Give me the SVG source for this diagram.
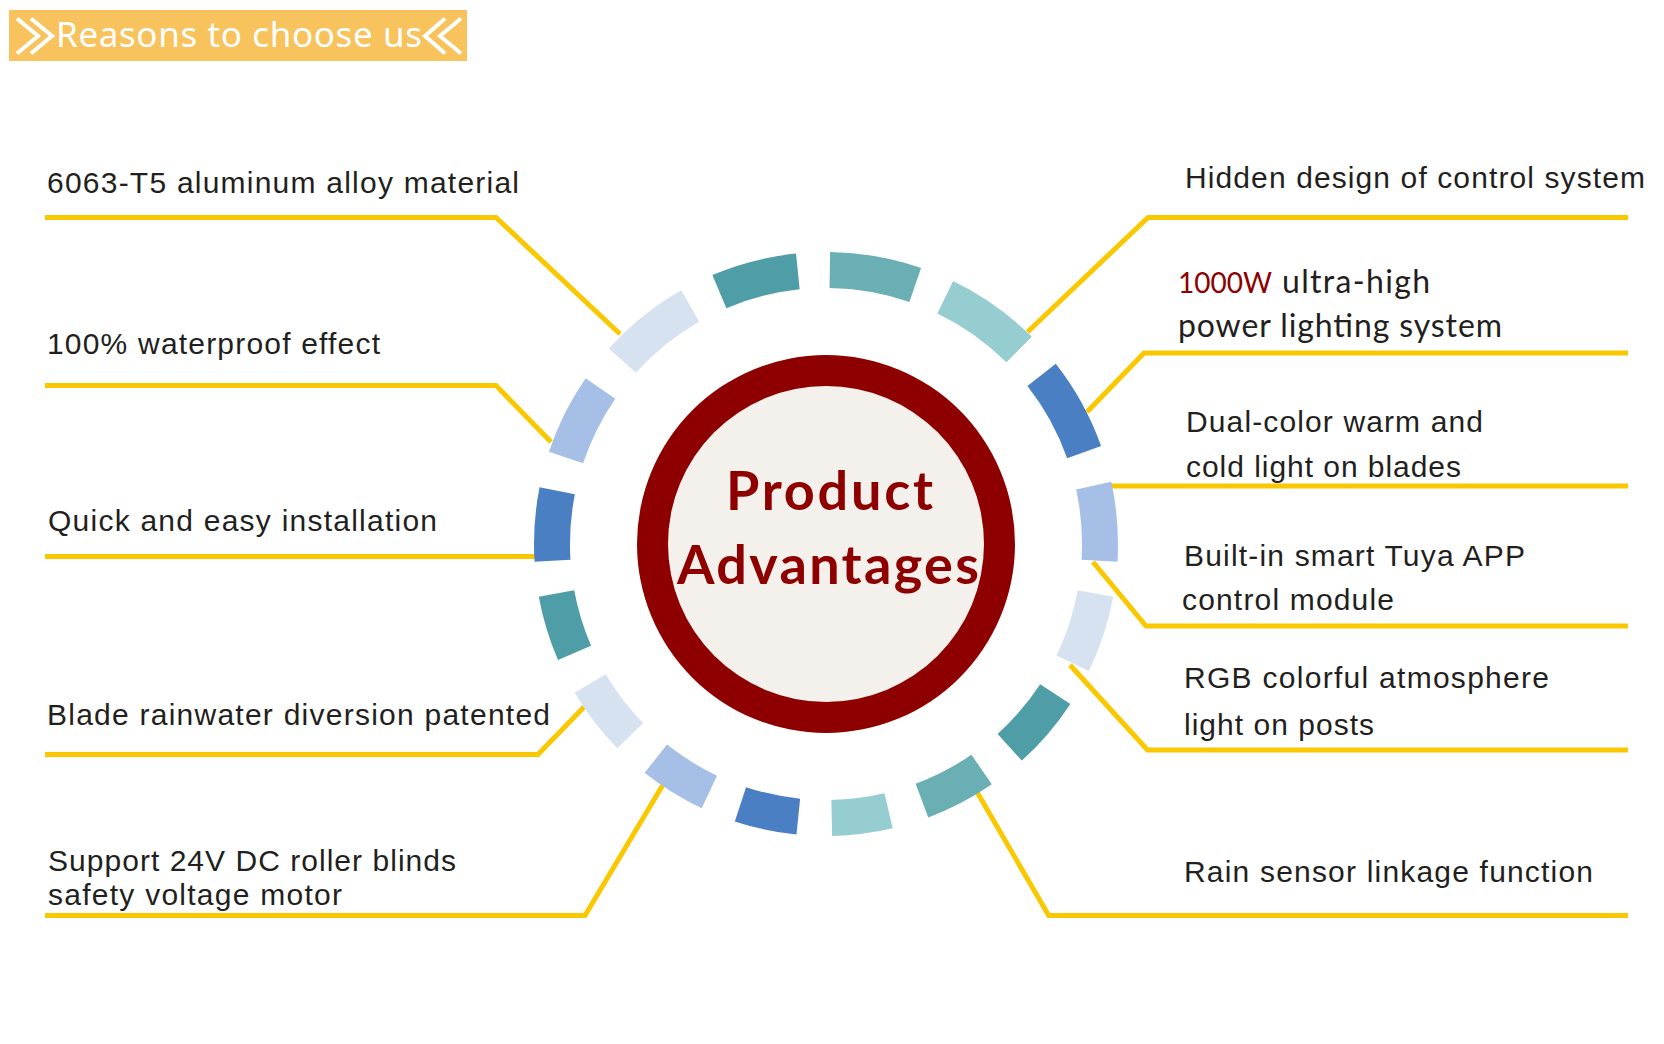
<svg xmlns="http://www.w3.org/2000/svg" width="1664" height="1044" viewBox="0 0 1664 1044">
<style>
.lbl{font-family:"Liberation Sans",Arial,sans-serif;font-size:30px;fill:#231f20}
.lat{font-family:Lato,"Liberation Sans",sans-serif;font-size:32px;fill:#231f20}
.ctr{font-family:Lato,"Open Sans",sans-serif;font-weight:bold;font-size:54px;fill:#8e0000}
.conn{fill:none;stroke:#f9c800;stroke-width:5;stroke-linejoin:miter}
.seg{fill:none;stroke-width:36}
.chev{fill:none;stroke:#fff;stroke-width:4}
.dt{stroke:#4f9da6}.mt{stroke:#6aafb4}.lt{stroke:#95cdd0}.bl{stroke:#4b7fc3}.lb{stroke:#a5bfe6}.vl{stroke:#d7e2f1}
</style>
<rect width="1664" height="1044" fill="#ffffff"/>
<g id="banner">
<rect x="9" y="10" width="458" height="51" fill="#f8c35c"/>
<polyline class="chev" points="17,18.5 38,36 17,53.5"/>
<polyline class="chev" points="31,18.5 52,36 31,53.5"/>
<polyline class="chev" points="445,18.5 425,36 445,53.5"/>
<polyline class="chev" points="461,18.5 440,36 461,53.5"/>
<text x="56" y="47" font-family="'Noto Sans','Open Sans',sans-serif" font-size="35" fill="#ffffff" textLength="366">Reasons to choose us</text>
</g>
<g id="connectors">
<polyline class="conn" points="45,217.5 496,217.5 620,334"/>
<polyline class="conn" points="45,385.5 496,385.5 551,442"/>
<polyline class="conn" points="45,556.5 536,556.5"/>
<polyline class="conn" points="45,754.5 538,754.5 584,707"/>
<polyline class="conn" points="45,915.5 585,915.5 664,783"/>
<polyline class="conn" points="1027.5,332 1148,217.5 1628,217.5"/>
<polyline class="conn" points="1087,412 1144,353 1628,353"/>
<polyline class="conn" points="1110,486 1628,486"/>
<polyline class="conn" points="1093,562 1146,626 1628,626"/>
<polyline class="conn" points="1070,665 1147.5,750 1628,750"/>
<polyline class="conn" points="977,792 1048.7,915.5 1628,915.5"/>
</g>
<g id="ring">
<path class="seg mt" d="M829.83,270.03 A274,274 0 0 1 915.21,284.93"/>
<path class="seg lt" d="M945.25,297.31 A274,274 0 0 1 1019.07,349.58"/>
<path class="seg bl" d="M1041.62,374.93 A274,274 0 0 1 1084.12,452.09"/>
<path class="seg lb" d="M1093.71,485.63 A274,274 0 0 1 1099.49,560.73"/>
<path class="seg vl" d="M1095.50,593.46 A274,274 0 0 1 1072.69,663.25"/>
<path class="seg dt" d="M1055.27,694.03 A274,274 0 0 1 1009.74,747.26"/>
<path class="seg mt" d="M981.59,769.54 A274,274 0 0 1 921.96,800.65"/>
<path class="seg lt" d="M888.57,810.76 A274,274 0 0 1 831.74,817.94"/>
<path class="seg bl" d="M798.31,816.60 A274,274 0 0 1 740.42,804.29"/>
<path class="seg lb" d="M709.34,791.92 A274,274 0 0 1 655.80,758.73"/>
<path class="seg vl" d="M630.24,735.71 A274,274 0 0 1 590.16,683.48"/>
<path class="seg dt" d="M574.54,652.82 A274,274 0 0 1 556.50,593.46"/>
<path class="seg bl" d="M552.51,560.73 A274,274 0 0 1 557.22,490.78"/>
<path class="seg lb" d="M566.01,457.51 A274,274 0 0 1 600.47,388.41"/>
<path class="seg vl" d="M622.38,360.66 A274,274 0 0 1 690.24,306.00"/>
<path class="seg dt" d="M719.38,291.59 A274,274 0 0 1 797.84,271.45"/>
</g>
<g id="center">
<circle cx="826" cy="544" r="189" fill="#8e0000"/>
<circle cx="826" cy="544" r="158" fill="#f4f0ec"/>
<text class="ctr" x="726" y="510" textLength="207">Product</text>
<text class="ctr" x="677" y="584" textLength="302">Advantages</text>
</g>
<g id="item-aluminum"><text class="lbl" x="47" y="193" textLength="472">6063-T5 aluminum alloy material</text></g>
<g id="item-waterproof"><text class="lbl" x="47" y="354" textLength="333">100% waterproof effect</text></g>
<g id="item-installation"><text class="lbl" x="48" y="531" textLength="389">Quick and easy installation</text></g>
<g id="item-rainwater"><text class="lbl" x="47" y="725" textLength="503">Blade rainwater diversion patented</text></g>
<g id="item-motor">
<text class="lbl" x="48" y="871" textLength="408">Support 24V DC roller blinds</text>
<text class="lbl" x="48" y="905" textLength="294">safety voltage motor</text>
</g>
<g id="item-hidden"><text class="lbl" x="1185" y="188" textLength="460">Hidden design of control system</text></g>
<g id="item-lighting">
<text class="lat" x="1178" y="293"><tspan fill="#8e0000" font-size="28">1000W</tspan><tspan x="1282" textLength="148">ultra-high</tspan></text>
<text class="lat" x="1178" y="337" textLength="324">power lighting system</text>
</g>
<g id="item-dualcolor">
<text class="lbl" x="1186" y="432" textLength="297">Dual-color warm and</text>
<text class="lbl" x="1186" y="477" textLength="275">cold light on blades</text>
</g>
<g id="item-tuya">
<text class="lbl" x="1184" y="566" textLength="341">Built-in smart Tuya APP</text>
<text class="lbl" x="1182" y="610" textLength="212">control module</text>
</g>
<g id="item-rgb">
<text class="lbl" x="1184" y="688" textLength="365">RGB colorful atmosphere</text>
<text class="lbl" x="1184" y="735" textLength="190">light on posts</text>
</g>
<g id="item-rain"><text class="lbl" x="1184" y="882" textLength="409">Rain sensor linkage function</text></g>
</svg>
